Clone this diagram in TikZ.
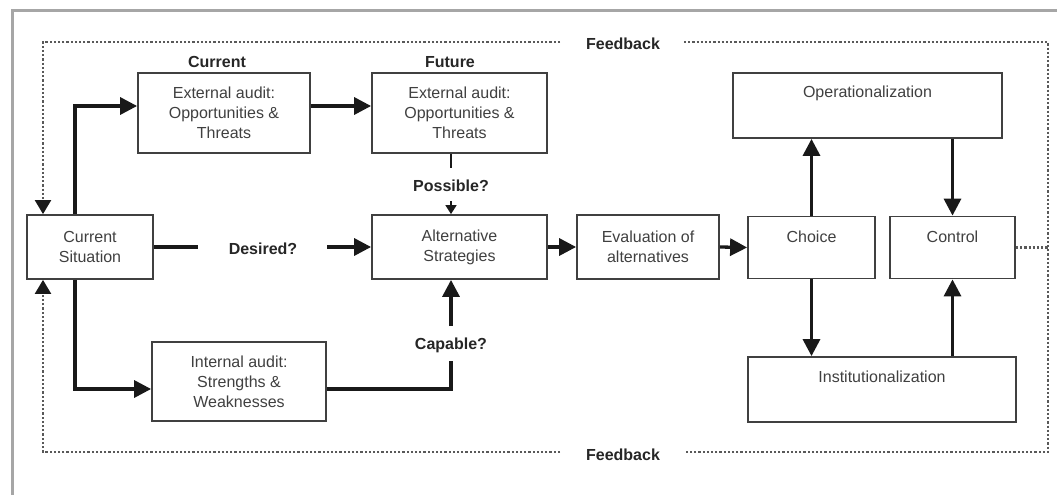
\documentclass[tikz,border=0pt]{standalone}
\usepackage{fontspec}
\setmainfont{Liberation Sans}
\usetikzlibrary{arrows.meta,calc}
\begin{document}
\begin{tikzpicture}[x=1pt,y=-1pt,
  box/.style={draw=black!75, line width=1.8pt, inner sep=0pt, align=center,
    font=\fontsize{16}{20}\selectfont, text=black!75},
  boxtext/.style={font=\fontsize{16}{20}\selectfont, text=black!75, inner sep=0pt},
  lbl/.style={font=\bfseries\fontsize{16}{18}\selectfont, text=black!85, inner sep=1pt},
  conn/.style={line width=3.3pt, draw=black!90, -{Triangle[length=17pt,width=17pt]}},
  plain/.style={line width=3.3pt, draw=black!90},
  smallconn/.style={line width=1.6pt, draw=black!90, -{Triangle[length=9pt,width=11pt]}},
  fb/.style={line width=2.2pt, draw=black!65, dotted},
  fbarrow/.style={fb, -{Triangle[length=14pt,width=16pt,color=black!90,fill=black!90]}}
]
\useasboundingbox (0,0) rectangle (1057,495);
\fill[white] (0,0) rectangle (1057,495);
% outer frame
\draw[line width=3pt, draw=black!35] (12,495) -- (12,11) -- (1057,11);

% boxes
\node[box, minimum width=126pt, minimum height=64pt] (cs) at (90,247) {Current\\Situation};
\node[box, minimum width=172pt, minimum height=80pt] (ext1) at (224,113) {External audit:\\Opportunities \&\\Threats};
\node[box, minimum width=175pt, minimum height=80pt] (ext2) at (459.5,113) {External audit:\\Opportunities \&\\Threats};
\node[box, minimum width=175pt, minimum height=64pt] (alt) at (459.5,247) {Alternative\\Strategies};
\node[box, minimum width=142pt, minimum height=64pt] (eval) at (648,247) {Evaluation of\\alternatives};
\node[box, minimum width=127pt, minimum height=62pt] (choice) at (811.5,247.5) {};
\node[boxtext] at (811.5,237) {Choice};
\node[box, minimum width=125pt, minimum height=62pt] (ctrl) at (952.5,247.5) {};
\node[boxtext] at (952.5,237) {Control};
\node[box, minimum width=269pt, minimum height=65pt] (op) at (867.5,105.5) {};
\node[boxtext] at (867.5,93) {Operationalization};
\node[box, minimum width=268pt, minimum height=65pt] (inst) at (882,389.5) {};
\node[boxtext] at (882,377) {Institutionalization};
\node[box, minimum width=174pt, minimum height=79pt] (int) at (239,381.5) {Internal audit:\\Strengths \&\\Weaknesses};

% labels
\node[lbl] (lcur) at (217,62) {Current};
\node[lbl] (lfut) at (450,62) {Future};
\node[lbl] (lpos) at (451,186) {Possible?};
\node[lbl] (ldes) at (263,249) {Desired?};
\node[lbl] (lcap) at (451,345) {Capable?};
\node[lbl] (lfb1) at (623,44) {Feedback};
\node[lbl] (lfb2) at (623,455) {Feedback};

% helper coordinates
\coordinate (xl) at (75,0);
\coordinate (r1) at (0,106);
\coordinate (r3) at (0,389);
\coordinate (xp) at (451,0);
\coordinate (p1) at (451,168);
\coordinate (p2) at (451,201);
\coordinate (d1) at (198,247);
\coordinate (d2) at (327,247);
\coordinate (c1) at (451,361);
\coordinate (c2) at (451,326);
\coordinate (fTL) at (43,42);
\coordinate (fTR) at (1048,42);
\coordinate (fBL) at (43,452);
\coordinate (fBR) at (1048,452);
\coordinate (g1) at (560,42);
\coordinate (g2) at (684,42);
\coordinate (g3) at (560,452);
\coordinate (g4) at (685,452);

% main connectors
\draw[conn] (cs.north -| xl) |- (ext1.west |- r1);
\draw[conn] (ext1.east |- r1) -- (ext2.west |- r1);
\draw[plain, line width=2.6pt] (ext2.south -| xp) -- (p1);
\draw[smallconn] (p2) -- (alt.north -| xp);
\draw[plain] (cs.east) -- (d1);
\draw[conn] (d2) -- (alt.west);
\draw[conn] (cs.south -| xl) |- (int.west |- r3);
\draw[plain] (int.east |- r3) -| (c1);
\draw[conn] (c2) -- (alt.south -| xp);
\draw[conn] (alt.east) -- (eval.west);
\draw[conn] (eval.east) -- (choice.west);
\draw[conn] (choice.north) -- (op.south -| choice.north);
\draw[conn] (op.south -| ctrl.north) -- (ctrl.north);
\draw[conn] (choice.south) -- (inst.north -| choice.south);
\draw[conn] (inst.north -| ctrl.south) -- (ctrl.south);

% feedback loop
\draw[fbarrow] (g1) -- (fTL) -- (cs.north -| fTL);
\draw[fbarrow] (g3) -- (fBL) -- (cs.south -| fBL);
\draw[fb] (g2) -- (fTR) -- (fBR) -- (g4);
\draw[fb] (ctrl.east) -- (ctrl.east -| fTR);
\end{tikzpicture}
\end{document}
